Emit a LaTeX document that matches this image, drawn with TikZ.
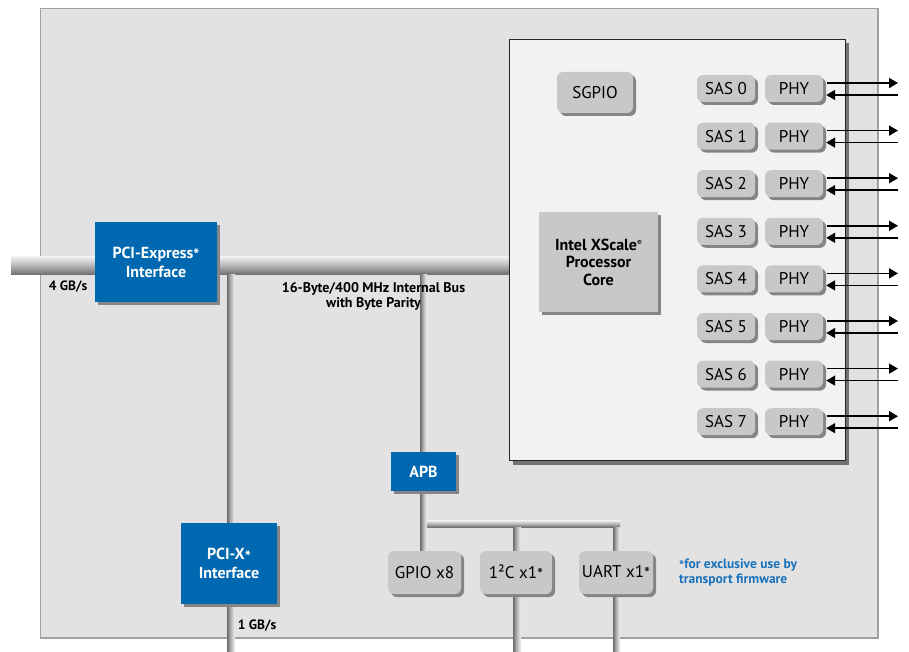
\documentclass[tikz,border=0pt]{standalone}
\usepackage{fontspec}
\setmainfont{PT Sans}
\usetikzlibrary{shadows,arrows.meta}
\definecolor{outerfill}{HTML}{E2E2E2}
\definecolor{outerline}{HTML}{A0A0A0}
\definecolor{innerfill}{HTML}{F2F2F2}
\definecolor{intelblue}{HTML}{0068B0}
\definecolor{boxgray}{HTML}{C8C8C8}
\definecolor{shadowgray}{HTML}{858585}
\definecolor{noteblue}{HTML}{1A72BA}
\newcommand{\lowast}{\raisebox{-0.3ex}{*}}
\pgfdeclarelayer{bg}
\pgfdeclarelayer{back}
\pgfsetlayers{back,bg,main}
\begin{document}
\begin{tikzpicture}[x=1pt,y=-1pt,
  hardshadow/.style={drop shadow={shadow xshift=3pt,shadow yshift=-3pt,fill=shadowgray,opacity=1}},
  bluebox/.style={fill=intelblue,text=white,font=\bfseries\fontsize{16}{19}\selectfont,align=center,inner sep=0pt,hardshadow},
  graybox/.style={fill=boxgray,rounded corners=6pt,font=\fontsize{17}{19}\selectfont,inner sep=0pt,hardshadow},
  hbus/.style={top color=gray!8,bottom color=gray!90!black,middle color=gray!55},
  vbus/.style={left color=gray!85!black,right color=gray!10,middle color=gray!55},
  lbl/.style={font=\bfseries\fontsize{13.5}{15}\selectfont,inner sep=0pt,align=center},
  arr/.style={line width=1.7pt,-{Triangle[length=9pt,width=10pt]}}
]
\useasboundingbox (0,0) rectangle (909,652);
% outer chip
\begin{pgfonlayer}{back}
\draw[fill=outerfill,draw=outerline,line width=1.5pt] (40.5,8.5) rectangle (878,638);
\end{pgfonlayer}
% inner (processor) box
\node[draw=black!85,line width=1pt,fill=innerfill,minimum width=336pt,minimum height=421pt,inner sep=0pt,
  drop shadow={shadow xshift=4pt,shadow yshift=-4pt,fill=black!55,opacity=1}] (inner) at (677,250) {};
% blue boxes
\node[bluebox,minimum width=122pt,minimum height=80pt] (pcie) at (156,262) {PCI-Express\lowast\\Interface};
\node[bluebox,minimum width=96pt,minimum height=81pt] (pcix) at (229,563.5) {PCI-X\lowast\\Interface};
\node[bluebox,minimum width=65pt,minimum height=39pt] (apb) at (423.5,471.5) {APB};
% peripheral boxes
\node[graybox,minimum width=73pt,minimum height=43pt] (gpio) at (424.5,572.5) {GPIO x8};
\node[graybox,minimum width=72pt,minimum height=43pt] (i2c) at (516,572.5) {1²C x1\lowast};
\node[graybox,minimum width=74pt,minimum height=43pt] (uart) at (616,572.5) {UART x1\lowast};
% processor core and sgpio
\node[fill=boxgray,minimum width=119pt,minimum height=100pt,inner sep=0pt,align=center,
  font=\bfseries\fontsize{16}{17.5}\selectfont,hardshadow] (core) at (598.5,262)
  {Intel XScale\raisebox{0.6ex}{\fontsize{7}{7}\selectfont®}\\Processor\\Core};
\node[graybox,minimum width=76pt,minimum height=41pt] (sgpio) at (595,92.5) {SGPIO};
% SAS / PHY rows
\coordinate (rb) at (898,0);
\foreach \k in {0,...,7}{
  \node[graybox,minimum width=58pt,minimum height=27pt] (sas\k) at (726,{88.5+47.6*\k}) {SAS \k};
  \node[graybox,minimum width=58pt,minimum height=27pt] (phy\k) at (794,{88.5+47.6*\k}) {PHY};
  \draw[arr] ([xshift=4pt,yshift=5.5pt]phy\k.east) -- ([yshift=5.5pt]phy\k.east -| rb);
  \draw[arr] ([yshift=-6.5pt]phy\k.east -| rb) -- ([xshift=3pt,yshift=-6.5pt]phy\k.east);
}
% buses
\coordinate (busL) at (11,265);
\coordinate (botedge) at (0,652);
\begin{pgfonlayer}{bg}
\shade[hbus] (busL |- 0,256) rectangle (inner.west |- 0,274);
\shade[vbus] (227,274) rectangle (235,0 |- pcix.north);
\shade[vbus] (227,0 |- pcix.south) rectangle (235,0 |- botedge);
\shade[vbus] (420,274) rectangle (427,0 |- apb.north);
\shade[vbus] (420,0 |- apb.south) rectangle (427,0 |- gpio.north);
\shade[hbus] (427,520) rectangle (620,527);
\shade[vbus] (513,527) rectangle (521,0 |- i2c.north);
\shade[vbus] (513,0 |- i2c.south) rectangle (521,0 |- botedge);
\shade[vbus] (613,527) rectangle (620,0 |- uart.north);
\shade[vbus] (613,0 |- uart.south) rectangle (620,0 |- botedge);
\end{pgfonlayer}
% labels
\node[lbl] (l4) at (68,287) {4 GB/s};
\node[lbl] (l1) at (257,626) {1 GB/s};
\node[lbl,font=\bfseries\fontsize{14}{15}\selectfont] (lbus) at (373.5,296.5) {16-Byte/400 MHz Internal Bus\\with Byte Parity};
\node[lbl,text=noteblue,align=left,anchor=west] (note) at (679,573) {\lowast for exclusive use by\\transport firmware};
\end{tikzpicture}
\end{document}
